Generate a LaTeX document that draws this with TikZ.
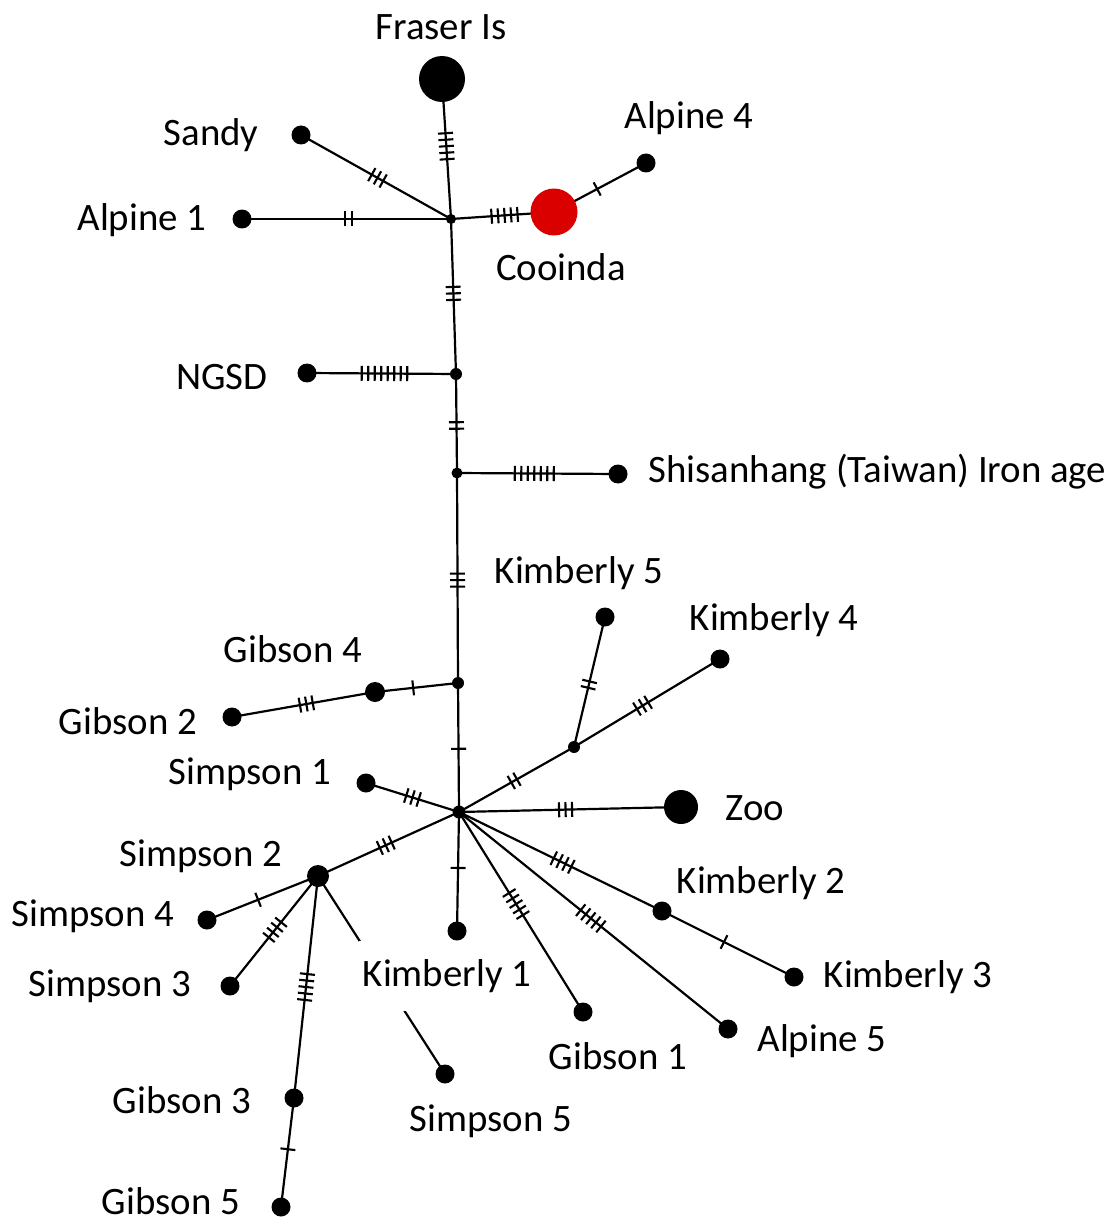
\documentclass[tikz,border=0pt]{standalone}
\usepackage{fontspec}
\setmainfont{Carlito}
\usetikzlibrary{decorations.markings,backgrounds}
\definecolor{cooired}{RGB}{218,0,0}
\begin{document}
\begin{tikzpicture}[x=0.02cm,y=-0.02cm,
  edge/.style={line width=1.25pt},
  dot/.style={circle,fill=black,inner sep=0pt,minimum size=#1},
  lbl/.style={font=\fontsize{22.1}{26}\selectfont,inner sep=0pt},
  tk/.style n args={2}{postaction={decorate,decoration={markings,
      mark=at position #1 with {\foreach \k in {1,...,#2}{\draw[line width=1.2pt] ({(\k-(#2+1)/2)*0.13cm},-0.15cm) -- ++(0,0.3cm);}}}}}
]
\useasboundingbox (0,0) rectangle (1112,1226);
% nodes
\node[dot=0.92cm] (fraser) at (442,79) {};
\node[dot=0.2cm] (h1) at (451,219) {};
\node[dot=0.38cm] (sandy) at (301,135) {};
\node[dot=0.38cm] (alp1) at (242,219) {};
\node[dot=0.94cm,fill=cooired] (coo) at (554,212) {};
\node[dot=0.38cm] (alp4) at (646,163) {};
\node[dot=0.24cm] (nj) at (456,374) {};
\node[dot=0.38cm] (ngsd) at (307,373) {};
\node[dot=0.22cm] (j2) at (457,473) {};
\node[dot=0.38cm] (shis) at (618,474) {};
\node[dot=0.24cm] (j3) at (458,683) {};
\node[dot=0.4cm] (gib4) at (375,692) {};
\node[dot=0.38cm] (gib2) at (232,717) {};
\node[dot=0.26cm] (hub) at (459,812) {};
\node[dot=0.38cm] (sim1) at (366,783) {};
\node[dot=0.24cm] (kj) at (574,747) {};
\node[dot=0.38cm] (kim5) at (605,617) {};
\node[dot=0.38cm] (kim4) at (720,659) {};
\node[dot=0.68cm] (zoo) at (681,807) {};
\node[dot=0.44cm] (sim2) at (318,876) {};
\node[dot=0.38cm] (sim4) at (207,920) {};
\node[dot=0.38cm] (sim3) at (230,986) {};
\node[dot=0.38cm] (gib3) at (294,1098) {};
\node[dot=0.38cm] (gib5) at (281,1207) {};
\node[dot=0.38cm] (sim5) at (445,1074) {};
\node[dot=0.38cm] (kim1) at (457,931) {};
\node[dot=0.38cm] (gib1) at (583,1012) {};
\node[dot=0.38cm] (alp5) at (728,1029) {};
\node[dot=0.38cm] (kim2) at (662,911) {};
\node[dot=0.38cm] (kim3) at (794,977) {};
% labels
\node[lbl] (lfraser) at (441,27) {Fraser Is};
\node[lbl] (lsandy) at (211,135) {Sandy};
\node[lbl] (lalp1) at (142,220) {Alpine 1};
\node[lbl] (lcoo) at (561,267) {Cooinda};
\node[lbl] (lalp4) at (689,118) {Alpine 4};
\node[lbl] (lngsd) at (222,377) {NGSD};
\node[lbl,anchor=west] (lshis) at (648,472) {Shisanhang (Taiwan) Iron age};
\node[lbl] (lgib4) at (293,649) {Gibson 4};
\node[lbl] (lgib2) at (128,721) {Gibson 2};
\node[lbl] (lsim1) at (250,774) {Simpson 1};
\node[lbl] (lkim5) at (579,573) {Kimberly 5};
\node[lbl] (lkim4) at (774,620) {Kimberly 4};
\node[lbl] (lzoo) at (755,808) {Zoo};
\node[lbl] (lsim2) at (201,856) {Simpson 2};
\node[lbl] (lsim4) at (93,916) {Simpson 4};
\node[lbl] (lsim3) at (110,986) {Simpson 3};
\node[lbl] (lgib3) at (182,1100) {Gibson 3};
\node[lbl] (lgib5) at (171,1201) {Gibson 5};
\node[lbl] (lsim5) at (491,1121) {Simpson 5};
\node[lbl,fill=white,inner ysep=0.36cm,inner xsep=2pt] (lkim1) at (447,976) {Kimberly 1};
\node[lbl] (lgib1) at (618,1056) {Gibson 1};
\node[lbl] (lalp5) at (822,1041) {Alpine 5};
\node[lbl] (lkim2) at (761,883) {Kimberly 2};
\node[lbl] (lkim3) at (908,977) {Kimberly 3};
% edges
\begin{scope}[on background layer]
\draw[edge,tk={0.48}{5}] (fraser.center) -- (h1.center);
\draw[edge,tk={0.51}{3}] (sandy.center) -- (h1.center);
\draw[edge,tk={0.51}{2}] (alp1.center) -- (h1.center);
\draw[edge,tk={0.52}{5}] (h1.center) -- (coo.center);
\draw[edge,tk={0.47}{1}] (coo.center) -- (alp4.center);
\draw[edge,tk={0.48}{3}] (h1.center) -- (nj.center);
\draw[edge,tk={0.52}{8}] (ngsd.center) -- (nj.center);
\draw[edge,tk={0.52}{2}] (nj.center) -- (j2.center);
\draw[edge,tk={0.48}{7}] (j2.center) -- (shis.center);
\draw[edge,tk={0.51}{3}] (j2.center) -- (j3.center);
\draw[edge,tk={0.52}{3}] (gib2.center) -- (gib4.center);
\draw[edge,tk={0.46}{1}] (gib4.center) -- (j3.center);
\draw[edge,tk={0.51}{1}] (j3.center) -- (hub.center);
\draw[edge,tk={0.5}{3}] (sim1.center) -- (hub.center);
\draw[edge,tk={0.48}{2}] (hub.center) -- (kj.center);
\draw[edge,tk={0.48}{2}] (kj.center) -- (kim5.center);
\draw[edge,tk={0.47}{3}] (kj.center) -- (kim4.center);
\draw[edge,tk={0.48}{3}] (hub.center) -- (zoo.center);
\draw[edge,tk={0.52}{3}] (hub.center) -- (sim2.center);
\draw[edge,tk={0.54}{1}] (sim2.center) -- (sim4.center);
\draw[edge,tk={0.49}{4}] (sim2.center) -- (sim3.center);
\draw[edge,tk={0.5}{5}] (sim2.center) -- (gib3.center);
\draw[edge,tk={0.47}{1}] (gib3.center) -- (gib5.center);
\draw[edge] (sim2.center) -- (sim5.center);
\draw[edge,tk={0.47}{1}] (hub.center) -- (kim1.center);
\draw[edge,tk={0.46}{5}] (hub.center) -- (gib1.center);
\draw[edge,tk={0.49}{5}] (hub.center) -- (alp5.center);
\draw[edge,tk={0.51}{4}] (hub.center) -- (kim2.center);
\draw[edge,tk={0.47}{1}] (kim2.center) -- (kim3.center);
\end{scope}
\end{tikzpicture}
\end{document}
